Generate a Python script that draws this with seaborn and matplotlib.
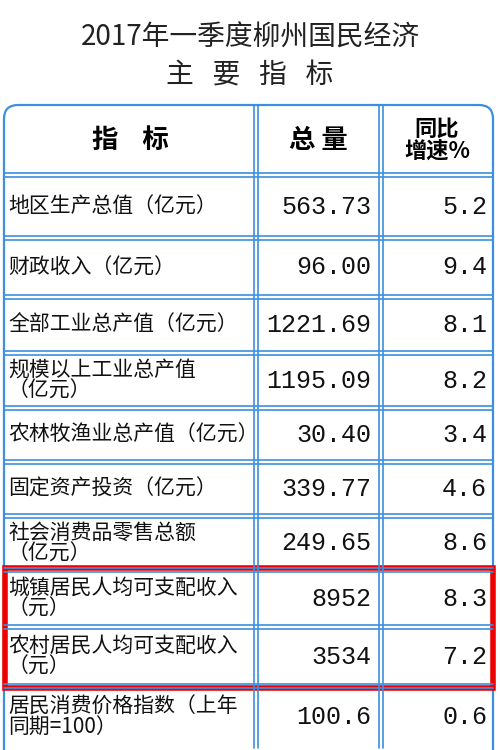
import matplotlib
matplotlib.use("Agg")
import matplotlib.pyplot as plt
import seaborn as sns
from matplotlib.patches import Rectangle, FancyBboxPatch

sns.set_theme(style="white")
plt.rcParams['font.family'] = ['Noto Sans CJK SC', 'DejaVu Sans']

title1 = "2017年一季度柳州国民经济"
title2 = "主   要   指   标"
headers = ["指    标", "总 量", "同比\n增速%"]
indicators = ["地区生产总值（亿元）", "财政收入（亿元）", "全部工业总产值（亿元）",
              "规模以上工业总产值\n（亿元）", "农林牧渔业总产值（亿元）", "固定资产投资（亿元）",
              "社会消费品零售总额\n（亿元）", "城镇居民人均可支配收入\n（元）",
              "农村居民人均可支配收入\n（元）", "居民消费价格指数（上年\n同期=100）"]
totals = ["563.73", "96.00", "1221.69", "1195.09", "30.40", "339.77", "249.65", "8952", "3534", "100.6"]
growth = ["5.2", "9.4", "8.1", "8.2", "3.4", "4.6", "8.6", "8.3", "7.2", "0.6"]

fig = plt.figure(figsize=(5, 7.5), dpi=100)
ax = fig.add_axes([0, 0, 1, 1])
ax.set_xlim(0, 500); ax.set_ylim(750, 0); ax.axis("off")

blue = "#3d8fe0"
ax.text(250, 38, title1, ha="center", va="center", fontsize=20, color="#222")
ax.text(250, 76, title2, ha="center", va="center", fontsize=20, color="#222")

xs = [4, 256, 381, 493]
rows = [105, 175, 238, 297, 353, 408, 462, 516, 570, 627, 686, 748]
ax.add_patch(FancyBboxPatch((xs[0], rows[0]), xs[-1]-xs[0], rows[-1]-rows[0] + 20,
             boxstyle="round,pad=0,rounding_size=14", fill=False, ec=blue, lw=1.6))
for x in xs[1:-1]:
    for d in (-2, 2):
        ax.plot([x+d, x+d], [rows[0], rows[-1]], color=blue, lw=1.2)
for y in rows[1:-1]:
    for d in (-2, 2):
        ax.plot([xs[0], xs[-1]], [y+d, y+d], color=blue, lw=1.2)

hx = [(xs[0]+xs[1])/2, (xs[1]+xs[2])/2, (xs[2]+xs[3])/2]
hy = (rows[0]+rows[1])/2
for i, h in enumerate(headers):
    ax.text(hx[i], hy, h, ha="center", va="center", fontsize=19 if i < 2 else 16,
            fontweight="bold", color="black", linespacing=0.9)

for i, (lab, tot, g) in enumerate(zip(indicators, totals, growth)):
    yc = (rows[i+1]+rows[i+2])/2
    ax.text(8, yc, lab, ha="left", va="center", fontsize=15, color="#111", linespacing=0.95)
    ax.text(371, yc, tot, ha="right", va="center", fontsize=18, color="#111",
            family=["Liberation Mono", "DejaVu Sans Mono"])
    ax.text(487, yc, g, ha="right", va="center", fontsize=18, color="#111",
            family=["Liberation Mono", "DejaVu Sans Mono"])

ax.add_patch(Rectangle((5, 568), 488, 120, fill=False, ec="#ee0000", lw=4))
fig.savefig("out.png", dpi=100)
